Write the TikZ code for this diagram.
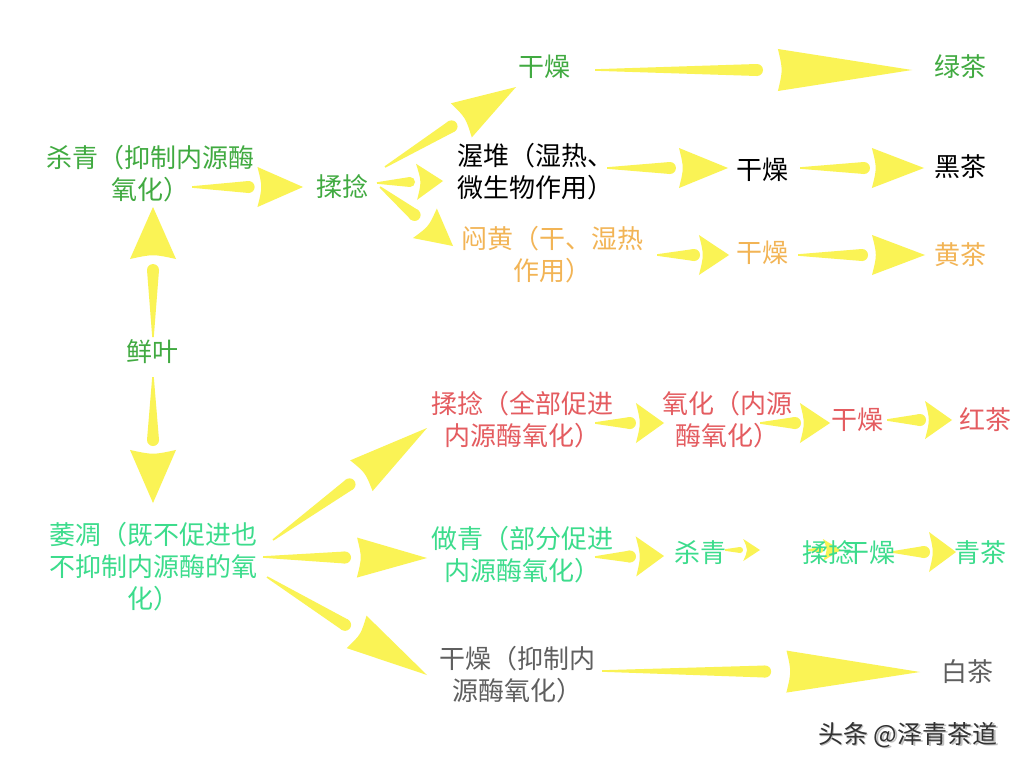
\documentclass[tikz,border=0pt]{standalone}
\usepackage{fontspec}
\setmainfont{Noto Sans CJK SC}
\usetikzlibrary{calc}
\definecolor{ayel}{RGB}{250,243,85}
\definecolor{tgreen}{RGB}{65,170,65}
\definecolor{lgreen}{RGB}{60,220,140}
\definecolor{tred}{RGB}{228,92,96}
\definecolor{torange}{RGB}{242,180,85}
\definecolor{tgray}{RGB}{95,95,95}
\newcommand{\yarr}[6]{%
  \coordinate (yS) at ($(#1)!#3!(#2)$);
  \coordinate (yH) at ($(#1)!#4!(#2)$);
  \coordinate (yH1) at ($(yH)!#5pt!90:(#2)$);
  \coordinate (yH2) at ($(yH)!#5pt!-90:(#2)$);
  \coordinate (yHc) at ($(yH)!5pt!(#2)$);
  \fill[ayel] ($(#1)!0.8pt!90:(#2)$) -- ($(yS)!#6pt!90:(#2)$) -- ($(yS)!#6pt!-90:(#2)$) -- ($(#1)!0.8pt!-90:(#2)$) -- cycle;
  \fill[ayel] (yS) circle (#6pt);
  \fill[ayel] (yH1) -- (#2) -- (yH2) .. controls (yHc) .. (yH1) -- cycle;
}
\tikzset{
  lbl/.style={inner sep=0pt, align=center, font=\fontsize{26}{32}\selectfont},
}
\begin{document}
\begin{tikzpicture}[x=1pt,y=-1pt]
\useasboundingbox (0,0) rectangle (1024,768);
\fill[white] (0,0) rectangle (1024,768);

% arrow end points
\coordinate (a1s) at (192,187);  \coordinate (a1t) at (303,187);
\coordinate (a2s) at (385,167);  \coordinate (a2t) at (516,87);
\coordinate (a3s) at (377,183);  \coordinate (a3t) at (443,181);
\coordinate (a4s) at (380,187);  \coordinate (a4t) at (453,246);
\coordinate (a5s) at (595,70);   \coordinate (a5t) at (912,70);
\coordinate (a6s) at (607,168);  \coordinate (a6t) at (728,168);
\coordinate (a7s) at (800,168);  \coordinate (a7t) at (924,168);
\coordinate (a8s) at (657,255);  \coordinate (a8t) at (729,255);
\coordinate (a9s) at (798,255);  \coordinate (a9t) at (925,255);
\coordinate (a10s) at (153,337); \coordinate (a10t) at (153,207);
\coordinate (a11s) at (153,377); \coordinate (a11t) at (153,503);
\coordinate (a12s) at (273,540); \coordinate (a12t) at (427,428);
\coordinate (a13s) at (263,557); \coordinate (a13t) at (427,558);
\coordinate (a14s) at (267,577); \coordinate (a14t) at (427,675);
\coordinate (a15s) at (595,423); \coordinate (a15t) at (664,423);
\coordinate (a16s) at (760,423); \coordinate (a16t) at (830,423);
\coordinate (a17s) at (887,420); \coordinate (a17t) at (952,420);
\coordinate (a18s) at (595,557); \coordinate (a18t) at (664,556);
\coordinate (a19s) at (725,550); \coordinate (a19t) at (760,550);
\coordinate (a20s) at (808,550); \coordinate (a20t) at (841,550);
\coordinate (a21s) at (892,552); \coordinate (a21t) at (956,552);
\coordinate (a22s) at (602,671); \coordinate (a22t) at (920,672);

\yarr{a1s}{a1t}{0.51}{0.59}{20}{6}
\yarr{a2s}{a2t}{0.508}{0.583}{20}{6}
\yarr{a3s}{a3t}{0.5}{0.6}{18}{5}
\yarr{a4s}{a4t}{0.474}{0.615}{19}{6}
\yarr{a5s}{a5t}{0.511}{0.577}{21}{6}
\yarr{a6s}{a6t}{0.52}{0.595}{20}{6}
\yarr{a7s}{a7t}{0.516}{0.58}{20}{6}
\yarr{a8s}{a8t}{0.514}{0.583}{20}{6}
\yarr{a9s}{a9t}{0.504}{0.583}{20}{6}
\yarr{a10s}{a10t}{0.515}{0.6}{23}{6}
\yarr{a11s}{a11t}{0.5}{0.579}{23}{6}
\yarr{a12s}{a12t}{0.497}{0.574}{19}{6}
\yarr{a13s}{a13t}{0.5}{0.573}{20}{6}
\yarr{a14s}{a14t}{0.488}{0.56}{19}{6}
\yarr{a15s}{a15t}{0.507}{0.594}{20}{6}
\yarr{a16s}{a16t}{0.5}{0.571}{20}{6}
\yarr{a17s}{a17t}{0.508}{0.585}{19}{6}
\yarr{a18s}{a18t}{0.507}{0.594}{20}{6}
\yarr{a19s}{a19t}{0.43}{0.52}{11}{3}
\yarr{a20s}{a20t}{0.38}{0.45}{11}{3}
\yarr{a21s}{a21t}{0.5}{0.578}{20}{6}
\yarr{a22s}{a22t}{0.513}{0.58}{21}{6}

% labels
\node[lbl, text=tgreen] (qs1) at (150,174) {杀青（抑制内源酶\\氧化）};
\node[lbl, text=tgreen] (rn1) at (342,187) {揉捻};
\node[lbl, text=tgreen] (gz1) at (544,67) {干燥};
\node[lbl, text=tgreen] (lc) at (960,67) {绿茶};
\node[lbl, text=black] (wd) at (535,172) {渥堆（湿热、\\微生物作用）};
\node[lbl, text=black] (gz2) at (762,170) {干燥};
\node[lbl, text=black] (hc) at (960,167) {黑茶};
\node[lbl, text=torange] (mh) at (552,255) {闷黄（干、湿热\\作用）};
\node[lbl, text=torange] (gz3) at (762,253) {干燥};
\node[lbl, text=torange] (huc) at (960,255) {黄茶};
\node[lbl, text=tgreen] (xy) at (152,352) {鲜叶};
\node[lbl, text=lgreen] (wt) at (153,567) {萎凋（既不促进也\\不抑制内源酶的氧\\化）};
\node[lbl, text=tred] (rn2) at (522,420) {揉捻（全部促进\\内源酶氧化）};
\node[lbl, text=tred] (yh) at (727,420) {氧化（内源\\酶氧化）};
\node[lbl, text=tred] (gz4) at (857,420) {干燥};
\node[lbl, text=tred] (hoc) at (985,420) {红茶};
\node[lbl, text=lgreen] (zq) at (522,555) {做青（部分促进\\内源酶氧化）};
\node[lbl, text=lgreen] (qs2) at (700,553) {杀青};
\node[lbl, text=lgreen] (rn3) at (828,553) {揉捻};
\node[lbl, text=lgreen] (gz5) at (869,553) {干燥};
\node[lbl, text=lgreen] (qc) at (980,553) {青茶};
\node[lbl, text=tgray] (gz6) at (517,675) {干燥（抑制内\\源酶氧化）};
\node[lbl, text=tgray] (bc) at (967,672) {白茶};

% watermark
\node[lbl, font=\fontsize{25}{30}\selectfont, text=black!25] (wms) at (909.5,736.5) {头条 @泽青茶道};
\node[lbl, font=\fontsize{25}{30}\selectfont, text=black!80] (wm) at (908,735) {头条 @泽青茶道};
\end{tikzpicture}
\end{document}
